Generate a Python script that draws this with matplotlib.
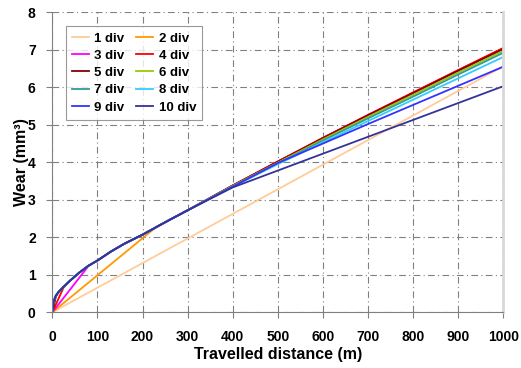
import numpy as np
import matplotlib
matplotlib.use("Agg")
import matplotlib.pyplot as plt

plt.rcParams['font.family'] = ['Liberation Sans', 'DejaVu Sans']
plt.rcParams['font.weight'] = 'bold'

# travelled distance (m) and wear (mm3) for each number of divisions
x_1 = [0, 1000]
y_1 = [0, 6.56]

x_2 = [0, 228, 250, 300, 400, 500, 600, 700, 800, 900, 1000]
y_2 = [0, 2.25, 2.40, 2.72, 3.38, 4.02, 4.65, 5.26, 5.86, 6.45, 7.04]

x_3 = [0, 76, 80, 100, 130, 160, 200, 250, 300, 400, 500, 600, 700, 800, 900, 1000]
y_3 = [0, 1.17, 1.24, 1.38, 1.62, 1.83, 2.07, 2.40, 2.72, 3.38, 4.02, 4.65, 5.26, 5.86, 6.45, 7.04]

x_4 = [0, 25, 40, 60, 80, 100, 130, 160, 200, 250, 300, 400, 500, 600, 700, 800, 900, 1000]
y_4 = [0, 0.66, 0.85, 1.06, 1.24, 1.38, 1.62, 1.83, 2.07, 2.40, 2.72, 3.38, 4.02, 4.65, 5.26, 5.86, 6.46, 7.05]

x_5 = [0, 8, 15, 25, 40, 60, 80, 100, 130, 160, 200, 250, 300, 400, 500, 600, 700, 800, 900, 1000]
y_5 = [0, 0.42, 0.55, 0.68, 0.85, 1.06, 1.24, 1.38, 1.62, 1.83, 2.07, 2.40, 2.72, 3.38, 4.01, 4.64, 5.25, 5.84, 6.44, 7.02]

x_main = [0, 3, 8, 15, 25, 40, 60, 80, 100, 130, 160, 200, 250, 300, 400, 500, 600, 700, 800, 900, 1000]
y_6 = [0, 0.30, 0.45, 0.56, 0.68, 0.85, 1.06, 1.24, 1.38, 1.62, 1.83, 2.07, 2.40, 2.72, 3.37, 3.99, 4.61, 5.21, 5.80, 6.39, 6.97]
y_7 = [0, 0.30, 0.45, 0.56, 0.68, 0.85, 1.06, 1.24, 1.38, 1.62, 1.83, 2.07, 2.40, 2.72, 3.36, 3.97, 4.58, 5.17, 5.75, 6.34, 6.92]
y_8 = [0, 0.30, 0.45, 0.56, 0.68, 0.85, 1.06, 1.24, 1.38, 1.62, 1.83, 2.07, 2.40, 2.72, 3.35, 3.95, 4.53, 5.10, 5.67, 6.24, 6.81]
y_9 = [0, 0.30, 0.45, 0.56, 0.68, 0.85, 1.06, 1.24, 1.38, 1.62, 1.83, 2.07, 2.40, 2.72, 3.35, 3.98, 4.50, 5.02, 5.53, 6.04, 6.55]
y_10 = [0, 0.30, 0.45, 0.56, 0.68, 0.85, 1.06, 1.24, 1.38, 1.62, 1.83, 2.07, 2.40, 2.72, 3.33, 3.78, 4.23, 4.68, 5.13, 5.58, 6.03]

labels = ['1 div', '2 div', '3 div', '4 div', '5 div',
          '6 div', '7 div', '8 div', '9 div', '10 div']
colors = ['#FFCC99', '#FF9900', '#FF00FF', '#FF0000', '#800000',
          '#99CC00', '#339999', '#33CCFF', '#3333FF', '#333399']

series = [(x_1, y_1), (x_2, y_2), (x_3, y_3), (x_4, y_4), (x_5, y_5),
          (x_main, y_6), (x_main, y_7), (x_main, y_8), (x_main, y_9), (x_main, y_10)]

fig = plt.figure(figsize=(5.21, 3.68), dpi=100)
ax = fig.add_axes([52.3 / 521, 1 - 312.3 / 368, 451 / 521, 300 / 368])

lines = []
for (xs, ys), lab, c in zip(series, labels, colors):
    ln, = ax.plot(xs, ys, color=c, lw=1.3, label=lab)
    lines.append(ln)

ax.set_xlim(0, 1000)
ax.set_ylim(0, 8)
ax.set_xticks(np.arange(0, 1001, 100))
ax.set_yticks(np.arange(0, 9, 1))
ax.grid(True, color='#808080', lw=0.8, linestyle=(0, (6, 3, 1, 3)))
ax.set_axisbelow(True)

for s in ['left', 'bottom']:
    ax.spines[s].set_color('#808080')
ax.spines['top'].set_visible(False)
ax.spines['right'].set_color('#D8D8D8')
ax.spines['right'].set_linewidth(2)
ax.tick_params(axis='both', direction='out', length=4, color='#808080',
               labelsize=10)
ax.tick_params(axis='y', pad=8)
ax.tick_params(axis='x', pad=9)

ax.set_xlabel('Travelled distance (m)', fontsize=11.5, fontweight='bold', labelpad=2)
ax.set_ylabel('Wear (mm³)', fontsize=11.5, fontweight='bold', labelpad=-1)

# legend reads row by row: odd divisions left, even divisions right
order = [0, 2, 4, 6, 8, 1, 3, 5, 7, 9]
leg = ax.legend([lines[i] for i in order], [labels[i] for i in order],
                loc='upper left', ncol=2, fontsize=9.5, frameon=True, fancybox=False,
                handlelength=1.3, handletextpad=0.4, columnspacing=0.9,
                labelspacing=0.38, borderpad=0.45, bbox_to_anchor=(0.015, 0.975))
leg.get_frame().set_edgecolor('#808080')
leg.get_frame().set_linewidth(0.8)
for t in leg.get_texts():
    t.set_fontweight('bold')

fig.savefig('out.png', dpi=100)
